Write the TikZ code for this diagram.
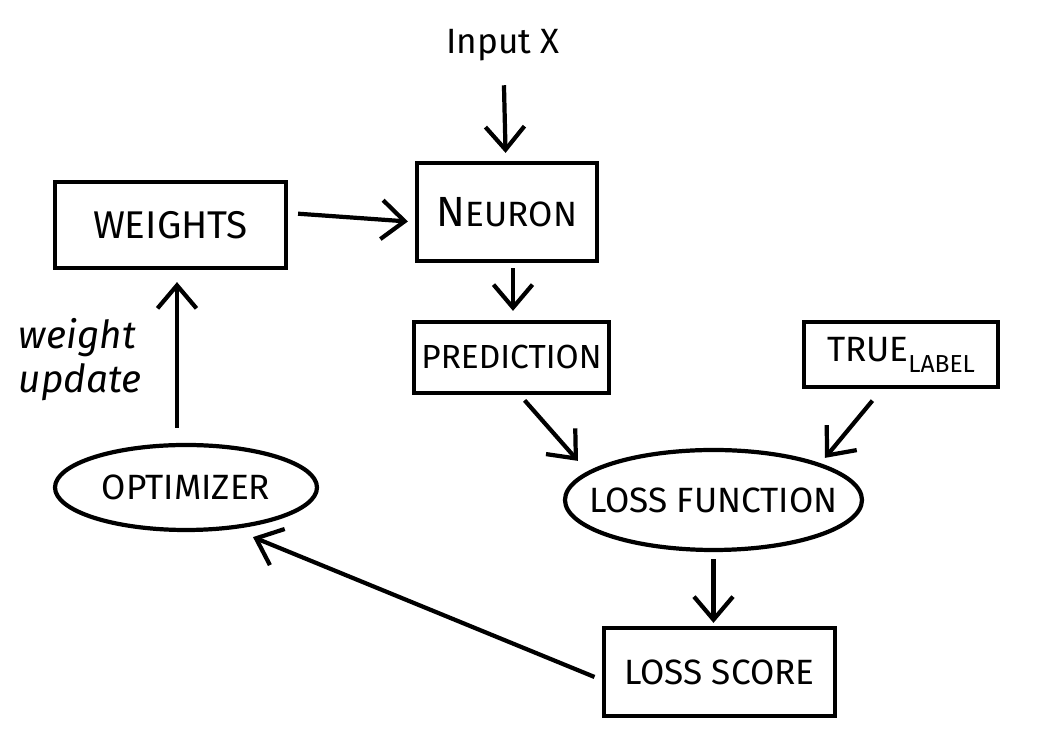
\documentclass[tikz,border=0pt]{standalone}
\usepackage{fontspec}
\setmainfont{Fira Sans}
\usetikzlibrary{arrows.meta, shapes.geometric}

\begin{document}
\begin{tikzpicture}[
    box/.style = {rectangle, draw, line width=1.2pt, inner sep=0pt},
    oval/.style = {ellipse, draw, line width=1.2pt, inner xsep=-3mm, inner ysep=0pt},
    arr/.style = {-{Straight Barb[length=2.3mm, width=3.9mm]}, line width=1.2pt},
    font = \fontsize{10}{12}\selectfont
]
        \useasboundingbox (0,0) rectangle (10.55,-7.51);

        \node (inputx) at (5.03,-0.45) {Input X};
        \node[box, minimum width=1.8cm, minimum height=0.98cm] (neuron) at (5.07,-2.12) {{\large N}EURON};
        \node[box, minimum width=2.31cm, minimum height=0.86cm] (weights) at (1.705,-2.25) {\fontsize{11}{12}\selectfont WEIGHTS};
        \node[box, minimum width=1.95cm, minimum height=0.71cm] (pred) at (5.115,-3.575) {\fontsize{9.5}{11}\selectfont PREDICTION};
        \node[box, minimum width=1.94cm, minimum height=0.65cm] (truelabel) at (9.01,-3.545) {TRUE\raisebox{-0.6ex}{\scriptsize LABEL}};
        \node[oval, minimum width=2.97cm, minimum height=1.0cm] (lossfn) at (7.135,-5.0) {LOSS FUNCTION};
        \node[box, minimum width=2.31cm, minimum height=0.88cm] (lossscore) at (7.195,-6.72) {LOSS SCORE};
        \node[oval, minimum width=2.62cm, minimum height=0.85cm] (optim) at (1.86,-4.875) {OPTIMIZER};
        \node[align=left, font=\itshape\fontsize{11}{12.5}\selectfont] (wupdate) at (0.8,-3.6) {weight\\update};

        \draw[arr, shorten <=0.12cm, shorten >=0.08cm] (inputx) -- (neuron);
        \draw[arr, shorten <=0.1cm, shorten >=0.07cm] ([yshift=1.2mm]weights.east) -- ([yshift=-1mm]neuron.west);
        \draw[arr, shorten <=0.05cm, shorten >=0.09cm] ([xshift=0.6mm]neuron.south) -- ([xshift=0.6mm]neuron.south |- pred.north);
        \draw[arr, shorten <=0.07cm] ([xshift=0.85mm]pred.south) -- ([xshift=-13.55mm, yshift=-1.3mm]lossfn.north);
        \draw[arr, shorten <=0.15cm] ([xshift=-1.9mm]truelabel.south) -- ([xshift=11.15mm, yshift=-1mm]lossfn.north);
        \draw[arr, shorten <=0.07cm, shorten >=0.03cm] (lossfn.south) -- (lossfn.south |- lossscore.north);
        \draw[arr, shorten <=0.08cm] ([yshift=-0.8mm]lossscore.west) -- ([xshift=6.7mm, yshift=-0.5mm]optim.south);
        \draw[arr, shorten <=0.15cm, shorten >=0.12cm] ([xshift=-0.9mm]optim.north) -- ([xshift=0.65mm]weights.south);
\end{tikzpicture}
\end{document}
